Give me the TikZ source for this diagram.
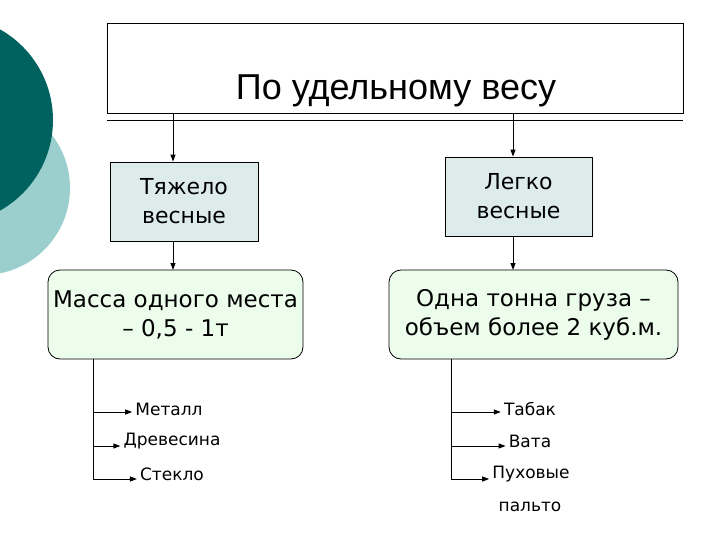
\documentclass[tikz,border=0pt]{standalone}
\usepackage{fontspec}
\setmainfont{DejaVu Sans}
\newfontfamily\titlefont{Liberation Sans}
\usetikzlibrary{arrows.meta}
\definecolor{darkteal}{HTML}{00625F}
\definecolor{lightteal}{HTML}{9BCFCD}
\definecolor{boxblue}{HTML}{DDEBEB}
\definecolor{boxgreen}{HTML}{ECFDEC}
\begin{document}
\begin{tikzpicture}[x=1pt,y=-1pt,
  arr/.style={-{Triangle[length=7pt,width=5pt]},line width=1pt},
  sq/.style={draw,line width=0.8pt,fill=boxblue,align=center,font=\fontsize{22}{29}\selectfont},
  rnd/.style={draw,line width=0.8pt,fill=boxgreen,rounded corners=12pt,align=center,font=\fontsize{23}{29}\selectfont},
  item/.style={font=\fontsize{17}{20}\selectfont,inner sep=3pt}]
\useasboundingbox (0,0) rectangle (720,540);
\fill[lightteal] (-17,188) circle (87);
\fill[darkteal] (-51,120) circle (104);
\node[draw,line width=0.8pt,minimum width=576pt,minimum height=90pt,anchor=north west] (title) at (107,23) {};
\node[font=\titlefont\fontsize{36}{40}\selectfont] (tt) at (396,91) {По удельному весу};
\coordinate (tl) at (107,120); \coordinate (tr) at (683,120);
\draw[line width=0.8pt] (tl) -- (tr);
\node[sq,minimum width=148pt,minimum height=79pt] (heavy) at (184,201.5) {Тяжело\\весные};
\node[sq,minimum width=147pt,minimum height=79pt] (light) at (518.5,196.5) {Легко\\весные};
\node[rnd,minimum width=255pt,minimum height=89pt,inner xsep=0pt] (hm) at (175.5,314.5) {Масса одного места\\– 0,5 - 1т};
\node[rnd,minimum width=289pt,minimum height=89pt,inner xsep=0pt] (lm) at (533.5,314.5) {Одна тонна груза –\\объем более 2 куб.м.};
\coordinate (a1) at (173,113); \coordinate (a2) at (513,113);
\draw[arr] (a1) -- (a1 |- heavy.north);
\draw[arr] (a2) -- (a2 |- light.north);
\draw[arr] (173,241) -- (173,270);
\draw[arr] (513,236) -- (513,270);
\node[item] (m1) at (169,409) {Металл};
\node[item] (m2) at (172,441) {Древесина};
\node[item] (m3) at (172,474) {Стекло};
\node[item] (n1) at (530,409) {Табак};
\node[item] (n2) at (530,441) {Вата};
\node[item] (n3) at (531,474) {Пуховые};
\node[item] (n4) at (530,507) {пальто};
\coordinate (ls) at (93,359); \coordinate (le) at (93,479);
\coordinate (rs) at (451,359); \coordinate (re) at (451,479);
\draw[line width=0.8pt] (ls) -- (le);
\draw[line width=0.8pt] (rs) -- (re);
\draw[arr] (93,412) -- (m1.west |- 93,412);
\draw[arr] (93,446) -- (m2.west |- 93,446);
\draw[arr] (93,479) -- (m3.west |- 93,479);
\draw[arr] (451,412) -- (n1.west |- 451,412);
\draw[arr] (451,446) -- (n2.west |- 451,446);
\draw[arr] (451,479) -- (n3.west |- 451,479);
\end{tikzpicture}
\end{document}
